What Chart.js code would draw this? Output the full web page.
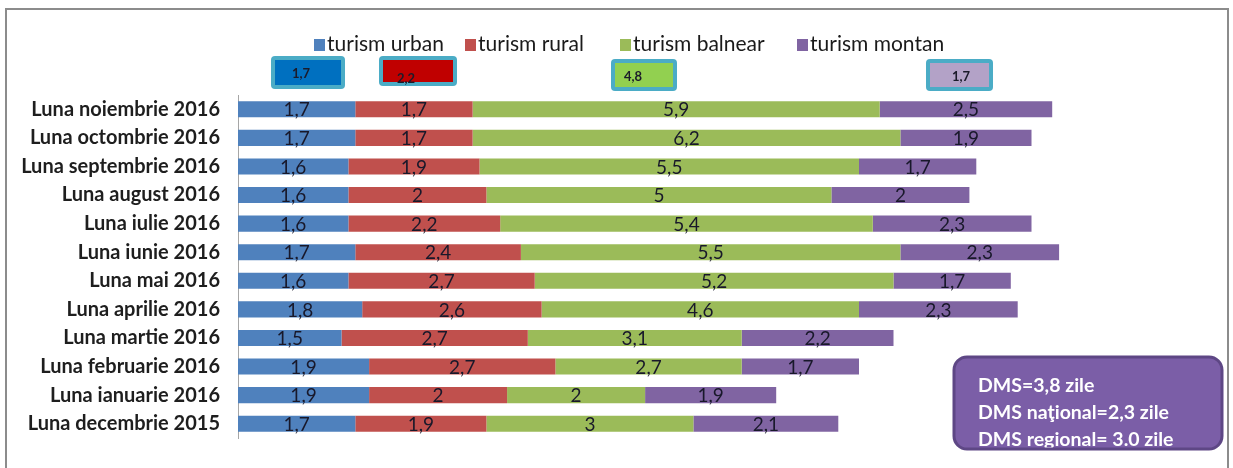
<!DOCTYPE html>
<html>
<head>
<meta charset="utf-8">
<script src="https://cdn.jsdelivr.net/npm/chart.js@4/dist/chart.umd.min.js"></script>
<style>
  html, body { margin: 0; padding: 0; background: #fff; }
  #wrap { width: 1233px; height: 468px; position: relative; }
</style>
</head>
<body>
<div id="wrap"><canvas id="dmsChart"></canvas></div>
<script>
  // Categories (top to bottom as shown)
  const months = [
    "Luna noiembrie 2016", "Luna octombrie 2016", "Luna septembrie 2016",
    "Luna august 2016", "Luna iulie 2016", "Luna iunie 2016", "Luna mai 2016",
    "Luna aprilie 2016", "Luna martie 2016", "Luna februarie 2016",
    "Luna ianuarie 2016", "Luna decembrie 2015"
  ];

  const seriesNames = ["turism urban", "turism rural", "turism balnear", "turism montan"];

  // Series values (days), one per month
  const urban   = [1.7, 1.7, 1.6, 1.6, 1.6, 1.7, 1.6, 1.8, 1.5, 1.9, 1.9, 1.7];
  const rural   = [1.7, 1.7, 1.9, 2, 2.2, 2.4, 2.7, 2.6, 2.7, 2.7, 2, 1.9];
  const balnear = [5.9, 6.2, 5.5, 5, 5.4, 5.5, 5.2, 4.6, 3.1, 2.7, 2, 3];
  const montan  = [2.5, 1.9, 1.7, 2, 2.3, 2.3, 1.7, 2.3, 2.2, 1.7, 1.9, 2.1];

  // Average values shown in the small boxes under the legend
  const averages = [1.7, 2.2, 4.8, 1.7];

  // Text of the summary box
  const dmsLines = ["DMS=3,8 zile", "DMS naţional=2,3 zile", "DMS regional= 3.0 zile"];

  const colors = ['#4f81bd', '#c0504d', '#9bbb59', '#8064a2'];
  const FONT = 'Lato, "Open Sans", sans-serif';

  const fmt = v => String(v).replace('.', ',');

  // frame around the whole chart object
  const framePlugin = {
    id: 'frame',
    beforeDraw(chart) {
      const ctx = chart.ctx;
      ctx.save();
      ctx.fillStyle = '#fff';
      ctx.fillRect(0, 0, chart.width, chart.height);
      ctx.strokeStyle = '#8c8c8c';
      ctx.lineWidth = 2;
      ctx.strokeRect(6, 9, 1222, 480);
      ctx.restore();
    }
  };

  // legend row at the top
  const legendPlugin = {
    id: 'topLegend',
    afterDraw(chart) {
      const ctx = chart.ctx;
      const xs = [314, 465, 620, 797];
      ctx.save();
      ctx.font = '21px ' + FONT;
      ctx.textBaseline = 'middle';
      chart.data.datasets.forEach((ds, i) => {
        ctx.fillStyle = ds.backgroundColor;
        ctx.fillRect(xs[i], 39, 11, 12);
        ctx.fillStyle = '#1a1a1a';
        ctx.fillText(ds.label, xs[i] + 13, 44);
      });
      ctx.restore();
    }
  };

  // the four little highlighted value boxes
  const avgBoxPlugin = {
    id: 'avgBoxes',
    afterDraw(chart) {
      const ctx = chart.ctx;
      const boxes = [
        { x: 271, y: 56, w: 74, h: 33, fill: '#0070c0', tx: 301, ty: 74 },
        { x: 379, y: 56, w: 78, h: 30, fill: '#c00000', tx: 406, ty: 79 },
        { x: 611, y: 59, w: 66, h: 32, fill: '#92d050', tx: 633, ty: 77 },
        { x: 926, y: 59, w: 67, h: 32, fill: '#b3a2c7', tx: 961, ty: 77 }
      ];
      ctx.save();
      boxes.forEach((b, i) => {
        ctx.fillStyle = '#4bacc6';
        ctx.beginPath();
        ctx.roundRect(b.x, b.y, b.w, b.h, 4);
        ctx.fill();
        ctx.fillStyle = b.fill;
        ctx.fillRect(b.x + 4, b.y + 4, b.w - 8, b.h - 8);
        ctx.fillStyle = '#1b1b2a';
        ctx.font = 'bold 13px ' + FONT;
        ctx.textAlign = 'center';
        ctx.textBaseline = 'middle';
        ctx.fillText(fmt(averages[i]), b.tx, b.ty);
      });
      ctx.restore();
    }
  };

  // values written inside each bar segment
  const barLabelPlugin = {
    id: 'barLabels',
    afterDatasetsDraw(chart) {
      const ctx = chart.ctx;
      ctx.save();
      ctx.font = '19px ' + FONT;
      ctx.fillStyle = '#18182a';
      ctx.textAlign = 'center';
      ctx.textBaseline = 'middle';
      chart.data.datasets.forEach((ds, di) => {
        const meta = chart.getDatasetMeta(di);
        meta.data.forEach((bar, i) => {
          const cx = (bar.x + bar.base) / 2;
          ctx.fillText(fmt(ds.data[i]), cx, bar.y + 1);
        });
      });
      ctx.restore();
    }
  };

  // summary box bottom right
  const dmsPlugin = {
    id: 'dmsBox',
    afterDraw(chart) {
      const ctx = chart.ctx;
      const x = 954, y = 357, w = 268, h = 92;
      ctx.save();
      ctx.beginPath();
      ctx.roundRect(x, y, w, h, 13);
      ctx.fillStyle = '#7b5ea7';
      ctx.fill();
      ctx.save();
      ctx.clip();
      ctx.fillStyle = '#fff';
      ctx.font = 'bold 19.5px ' + FONT;
      ctx.textBaseline = 'middle';
      dmsLines.forEach((t, i) => ctx.fillText(t, 978, 386 + i * 27));
      ctx.restore();
      ctx.lineWidth = 3;
      ctx.strokeStyle = '#5e4785';
      ctx.beginPath();
      ctx.roundRect(x, y, w, h, 13);
      ctx.stroke();
      ctx.restore();
    }
  };

  const seriesData = [urban, rural, balnear, montan];

  new Chart(document.getElementById('dmsChart'), {
    type: 'bar',
    data: {
      labels: months,
      datasets: seriesData.map((d, i) => ({
        label: seriesNames[i],
        data: d,
        backgroundColor: colors[i],
        borderWidth: 0,
        barPercentage: 0.56,
        categoryPercentage: 1
      }))
    },
    options: {
      indexAxis: 'y',
      responsive: true,
      maintainAspectRatio: false,
      animation: false,
      layout: {
        padding: { top: 95, bottom: 22, left: 0, right: 29 }
      },
      plugins: {
        legend: { display: false },
        tooltip: { enabled: false }
      },
      scales: {
        x: {
          stacked: true,
          display: false,
          min: 0,
          max: 14
        },
        y: {
          stacked: true,
          afterFit(scale) { scale.width = 238; },
          grid: { display: false, drawTicks: false },
          border: { display: true, color: '#a6a6a6', width: 1 },
          ticks: {
            padding: 18,
            color: '#1e1e1e',
            font: { family: FONT, size: 20, weight: 'bold' }
          }
        }
      }
    },
    plugins: [framePlugin, barLabelPlugin, legendPlugin, avgBoxPlugin, dmsPlugin]
  });
</script>
</body>
</html>
